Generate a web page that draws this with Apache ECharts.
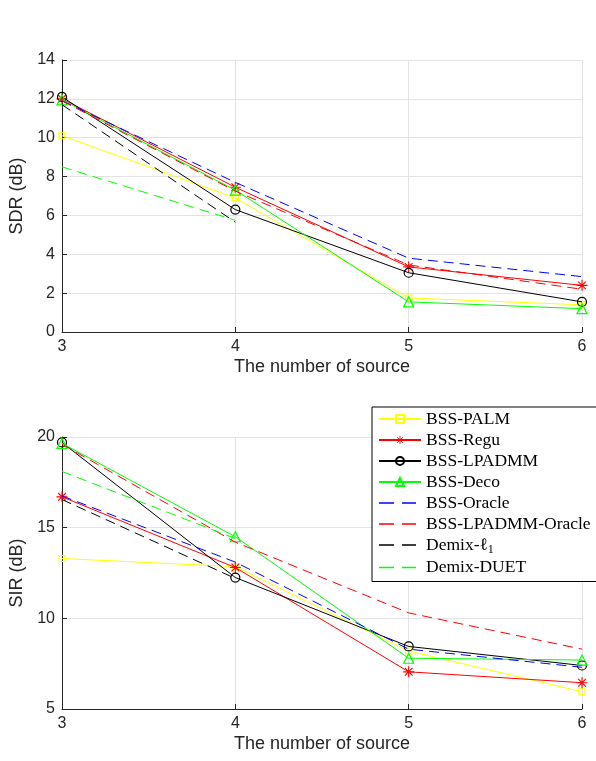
<!DOCTYPE html>
<html>
<head>
<meta charset="utf-8">
<script src="https://cdn.jsdelivr.net/npm/echarts@6/dist/echarts.min.js"></script>
<style>
html,body{margin:0;padding:0;background:#fff;}
#chart{width:596px;height:761px;}
</style>
</head>
<body>
<div id="chart"></div>
<script>
// ---- data ----
const sources = [3, 4, 5, 6];
const seriesNames = ['BSS-PALM', 'BSS-Regu', 'BSS-LPADMM', 'BSS-Deco', 'BSS-Oracle', 'BSS-LPADMM-Oracle', 'Demix-ℓ1', 'Demix-DUET'];

const sdrPALM         = [10.1, 6.9, 1.75, 1.4];
const sdrRegu         = [12.0, 7.45, 3.35, 2.4];
const sdrLPADMM       = [12.1, 6.3, 3.05, 1.55];
const sdrDeco         = [11.95, 7.3, 1.55, 1.2];
const sdrOracle       = [11.9, 7.7, 3.8, 2.85];
const sdrLPADMMOracle = [11.9, 7.25, 3.45, 2.2];
const sdrDemixL1      = [11.7, 5.65, null, null];
const sdrDUET         = [8.5, 5.75, null, null];

const sirPALM         = [13.3, 12.85, 8.2, 5.95];
const sirRegu         = [16.7, 12.8, 7.05, 6.45];
const sirLPADMM       = [19.7, 12.25, 8.45, 7.4];
const sirDeco         = [19.65, 14.5, 7.8, 7.7];
const sirOracle       = [16.75, 13.1, 8.3, 7.3];
const sirLPADMMOracle = [19.6, 14.2, 10.3, 8.3];
const sirDemixL1      = [16.55, 12.2, null, null];
const sirDUET         = [18.1, 14.4, null, null];

const sdrTicks = [0, 2, 4, 6, 8, 10, 12, 14];
const sirTicks = [5, 10, 15, 20];

// ---- styles ----
const STAR = 'path://M9 0L11 0L11 20L9 20Z M0 9L20 9L20 11L0 11Z M3.7 2.3L17.7 16.3L16.3 17.7L2.3 3.7Z M16.3 2.3L17.7 3.7L3.7 17.7L2.3 16.3Z';
// legend icon for dashed lines: two dashes, with tiny corner marks fixing the 42x10 box
const DASH_ICON = 'path://M0 0L0.01 0L0 0.01Z M42 10L41.99 10L42 9.99Z M0 4.35L15 4.35L15 5.65L0 5.65Z M23 4.35L37 4.35L37 5.65L23 5.65Z';
const styles = [
  {color: '#ffff00', symbol: 'rect', size: 6, hollow: true, dash: 'solid'},
  {color: '#ff0000', symbol: STAR, size: 11, hollow: false, dash: 'solid'},
  {color: '#000000', symbol: 'circle', size: 9, hollow: true, dash: 'solid'},
  {color: '#00ff00', symbol: 'triangle', size: 10, hollow: true, dash: 'solid'},
  {color: '#0000ff', symbol: 'none', size: 0, hollow: false, dash: [10, 6]},
  {color: '#ff0000', symbol: 'none', size: 0, hollow: false, dash: [10, 6]},
  {color: '#000000', symbol: 'none', size: 0, hollow: false, dash: [10, 6]},
  {color: '#00ff00', symbol: 'none', size: 0, hollow: false, dash: [10, 6]}
];

const sdrData = [sdrPALM, sdrRegu, sdrLPADMM, sdrDeco, sdrOracle, sdrLPADMMOracle, sdrDemixL1, sdrDUET];
const sirData = [sirPALM, sirRegu, sirLPADMM, sirDeco, sirOracle, sirLPADMMOracle, sirDemixL1, sirDUET];

function makeSeries(vals, idx, gi) {
  const st = styles[idx];
  const pts = [];
  vals.forEach((v, i) => { if (v !== null) pts.push([sources[i], v]); });
  return {
    name: seriesNames[idx],
    type: 'line',
    xAxisIndex: gi, yAxisIndex: gi,
    data: pts,
    symbol: st.symbol,
    symbolSize: st.size,
    showSymbol: st.symbol !== 'none',
    lineStyle: {color: st.color, width: 1, type: st.dash},
    itemStyle: st.hollow
      ? {color: 'rgba(255,255,255,0)', borderColor: st.color, borderWidth: 1.2}
      : {color: st.color, borderWidth: 0},
    color: st.color,
    emphasis: {disabled: true},
    z: 2 + idx
  };
}

const series = [];
sdrData.forEach((d, i) => series.push(makeSeries(d, i, 0)));
sirData.forEach((d, i) => series.push(makeSeries(d, i, 1)));

const legendData = seriesNames.map((n, i) =>
  styles[i].symbol === 'none' ? {name: n, icon: DASH_ICON, itemStyle: {color: styles[i].color}} : {name: n});

const axisCol = '#262626';
const sans = 'Liberation Sans';

function xAx(gi) {
  return {
    type: 'value', gridIndex: gi, min: 3, max: 6, interval: 1,
    name: 'The number of source', nameLocation: 'middle', nameGap: 26,
    nameTextStyle: {fontFamily: sans, fontSize: 18, color: axisCol},
    axisLine: {show: true, onZero: false, lineStyle: {color: axisCol, width: 1}},
    axisTick: {show: true, inside: true, length: 5, lineStyle: {color: axisCol}},
    axisLabel: {fontFamily: sans, fontSize: 16, color: axisCol, margin: 7},
    splitLine: {show: true, lineStyle: {color: '#e3e3e3', width: 1}}
  };
}
function yAx(gi, name, ticks) {
  return {
    type: 'value', gridIndex: gi, min: ticks[0], max: ticks[ticks.length - 1],
    interval: ticks[1] - ticks[0],
    name: name, nameLocation: 'middle', nameGap: 32,
    nameTextStyle: {fontFamily: sans, fontSize: 18, color: axisCol},
    axisLine: {show: true, onZero: false, lineStyle: {color: axisCol, width: 1}},
    axisTick: {show: true, inside: true, length: 5, lineStyle: {color: axisCol}},
    axisLabel: {fontFamily: sans, fontSize: 16, color: axisCol, margin: 7},
    splitLine: {show: true, lineStyle: {color: '#e3e3e3', width: 1}}
  };
}

const chart = echarts.init(document.getElementById('chart'), null, {renderer: 'canvas'});
chart.setOption({
  animation: false,
  backgroundColor: '#ffffff',
  grid: [
    {left: 62, top: 60, width: 520, height: 272},
    {left: 62, top: 437, width: 520, height: 272}
  ],
  xAxis: [xAx(0), xAx(1)],
  yAxis: [yAx(0, 'SDR (dB)', sdrTicks), yAx(1, 'SIR (dB)', sirTicks)],
  legend: {
    data: legendData,
    orient: 'vertical',
    left: 372, top: 407,
    padding: [3, 12, 5, 6],
    itemWidth: 42, itemHeight: 10, itemGap: 3,
    backgroundColor: '#ffffff',
    borderColor: '#000000', borderWidth: 1,
    selectedMode: false,
    formatter: function (n) { return n === 'Demix-ℓ1' ? 'Demix-ℓ{sub|1}' : n; },
    textStyle: {
      fontFamily: 'Liberation Serif', fontSize: 17.5, color: '#000',
      rich: {sub: {fontFamily: 'Liberation Serif', fontSize: 12, padding: [9, 0, 0, 0], color: '#000'}}
    }
  },
  series: series
});
</script>
</body>
</html>
